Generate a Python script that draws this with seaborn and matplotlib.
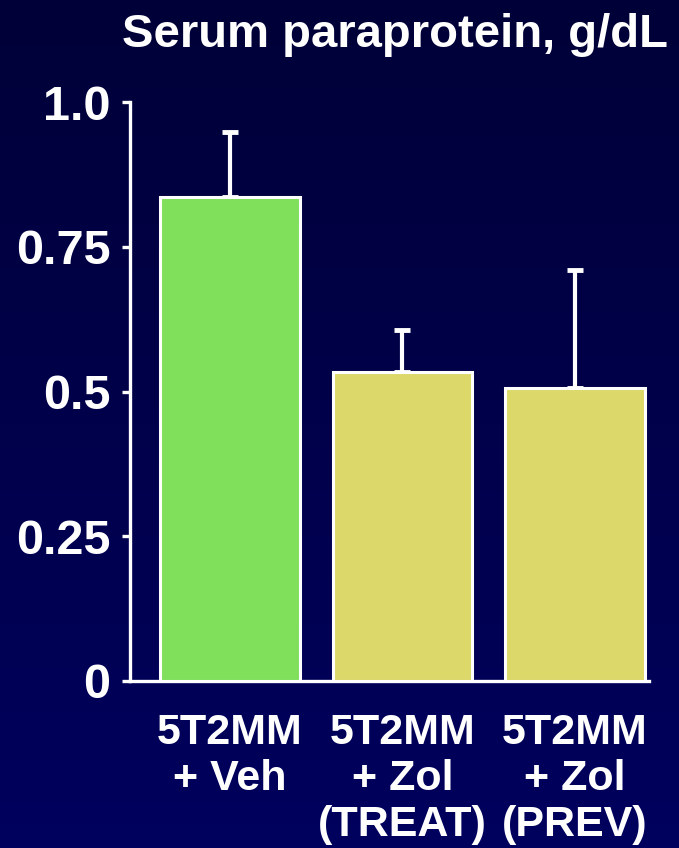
import numpy as np
import matplotlib
matplotlib.use("Agg")
import matplotlib.pyplot as plt
import seaborn as sns

groups = ["5T2MM\n+ Veh", "5T2MM\n+ Zol\n(TREAT)", "5T2MM\n+ Zol\n(PREV)"]
means = [0.836, 0.534, 0.506]
sem_upper = [0.112, 0.072, 0.204]
bar_colors = ["#80E05C", "#DDD86A", "#DDD86A"]
yticks = [0, 0.25, 0.5, 0.75, 1.0]
ytick_labels = ["0", "0.25", "0.5", "0.75", "1.0"]
title = "Serum paraprotein, g/dL"

sns.set_theme(style="ticks")
plt.rcParams["font.family"] = ["Liberation Sans", "DejaVu Sans"]
plt.rcParams["font.weight"] = "bold"

fig = plt.figure(figsize=(6.79, 8.48), dpi=100)

# navy gradient backdrop
bg = fig.add_axes([0, 0, 1, 1], zorder=-10)
grad = np.linspace(0, 1, 256).reshape(-1, 1)
cmap = matplotlib.colors.LinearSegmentedColormap.from_list("navy", ["#000038", "#00005E"])
bg.imshow(grad, aspect="auto", cmap=cmap, extent=[0, 1, 0, 1], origin="upper")
bg.set_axis_off()

ax = fig.add_axes([130 / 679, 1 - 681 / 848, (649 - 130) / 679, (681 - 102) / 848])
ax.set_facecolor("none")

sns.barplot(x=groups, y=means, hue=groups, palette=bar_colors, saturation=1,
            edgecolor="white", linewidth=2.2, width=0.81, legend=False,
            errorbar=None, ax=ax, zorder=3)
xpos = np.arange(len(groups))
ax.errorbar(xpos, means, yerr=[np.zeros(len(means)), sem_upper], fmt="none",
            ecolor="white", elinewidth=3, capsize=6, capthick=3.5, zorder=2)

ax.set_xlim(-0.58, 2.43)
ax.set_ylim(0, 1.0)
ax.set_yticks(yticks)
ax.set_yticklabels(ytick_labels)

for side in ["top", "right"]:
    ax.spines[side].set_visible(False)
for side in ["left", "bottom"]:
    ax.spines[side].set_color("white")
    ax.spines[side].set_linewidth(2.4)

ax.tick_params(axis="y", colors="white", length=6, width=2.4, pad=8, labelsize=35)
ax.tick_params(axis="x", colors="white", length=0, pad=23, labelsize=31)
for lbl in ax.get_xticklabels() + ax.get_yticklabels():
    lbl.set_fontweight("bold")
    lbl.set_color("white")
for lbl in ax.get_xticklabels():
    lbl.set_verticalalignment("top")
    lbl.set_linespacing(1.2)

fig.text(0.582, 1 - 13 / 848, title, ha="center", va="top", color="white",
         fontsize=34, fontweight="bold")

fig.savefig("out.png", dpi=100)
